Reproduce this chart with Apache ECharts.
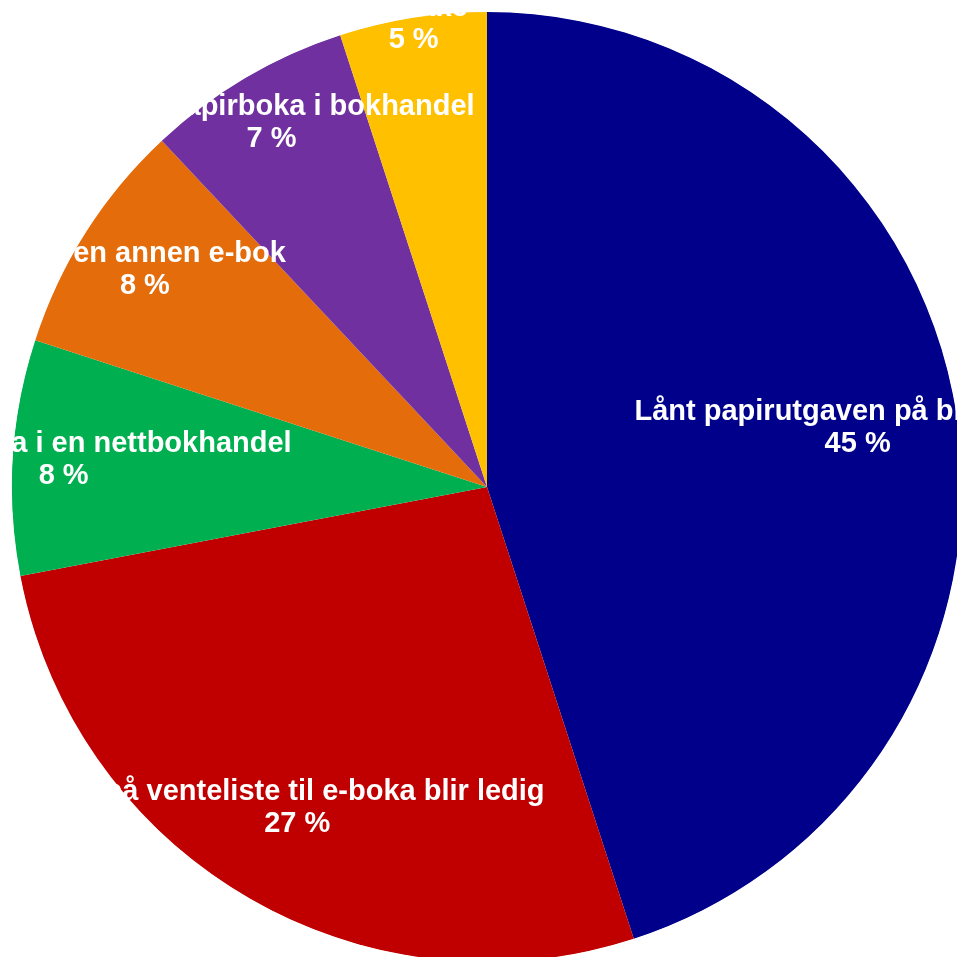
<!DOCTYPE html>
<html>
<head>
<meta charset="utf-8">
<script src="https://cdn.jsdelivr.net/npm/echarts@6/dist/echarts.min.js"></script>
<style>
  html, body { margin: 0; padding: 0; background: #ffffff; }
  #chart { width: 957px; height: 957px; clip-path: circle(475.5px at 487px 487px); }
</style>
</head>
<body>
<div id="chart"></div>
<script>
// Data
const categories = [
  'Lånt papirutgaven på biblioteket',
  'Sto på venteliste til e-boka blir ledig',
  'Kjøpte e-boka i en nettbokhandel',
  'Lånt en annen e-bok',
  'Kjøpte papirboka i bokhandel',
  'Vet ikke'
];
const values = [45, 27, 8, 8, 7, 5];

// Styles
const colors = ['#00008B', '#C00000', '#00B050', '#E46C0A', '#7030A0', '#FFC000'];
const labelRadiusFrac = [0.79, 0.785, 0.893, 0.853, 0.891, 0.987];
const CX = 487, CY = 487, R = 475;

const total = values.reduce((a, b) => a + b, 0);
const cum = [];
values.reduce((acc, v, i) => { cum[i] = acc; return acc + v; }, 0);

const chart = echarts.init(document.getElementById('chart'), null, { renderer: 'canvas' });
chart.setOption({
  animation: false,
  backgroundColor: '#ffffff',
  series: [{
    type: 'pie',
    center: [CX, CY],
    radius: R,
    startAngle: 90,
    clockwise: true,
    avoidLabelOverlap: false,
    silent: true,
    itemStyle: { borderWidth: 0 },
    label: {
      show: true,
      position: 'inside',
      color: '#ffffff',
      fontFamily: 'Liberation Sans, Arial, sans-serif',
      fontWeight: 'bold',
      fontSize: 29,
      lineHeight: 32,
      align: 'center',
      formatter: p => p.name + '\n' + p.value + ' %'
    },
    labelLine: { show: false },
    labelLayout: params => {
      const i = params.dataIndex;
      const mid = (cum[i] + values[i] / 2) / total * 2 * Math.PI;
      const rr = R * labelRadiusFrac[i];
      return {
        x: CX + rr * Math.sin(mid),
        y: CY - rr * Math.cos(mid),
        align: 'center',
        verticalAlign: 'middle'
      };
    },
    data: categories.map((c, i) => ({ name: c, value: values[i], itemStyle: { color: colors[i] } }))
  }]
});
</script>
</body>
</html>
